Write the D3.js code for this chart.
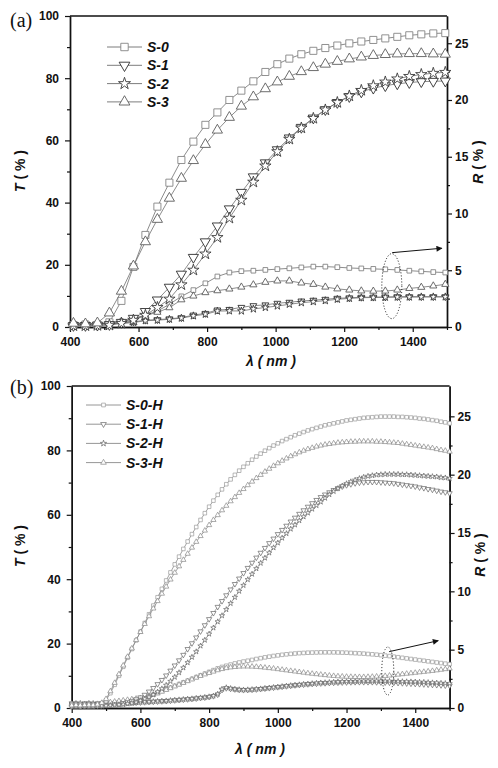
<!DOCTYPE html>
<html>
<head>
<meta charset="utf-8">
<script src="https://cdn.jsdelivr.net/npm/d3@7"></script>
<style>
  body { margin: 0; background: #fff; }
</style>
</head>
<body>
<div id="container"></div>
<script>
/* DATA - panel (a) */
const lambdaA = [410,445,480,515,550,585,620,655,690,725,760,795,830,865,900,935,970,1005,1040,1075,1110,1145,1180,1215,1250,1285,1320,1355,1390,1425,1460,1495];

const tS0a = [0.6,0.8,0.7,1.5, 8.4,19.3,29.6,38.7, 46.4,53.7,59.6,65.0, 69.0,73.0,76.0,79.0, 82.0,84.5,86.3,87.7, 88.8,89.7,90.5,91.2, 91.8,92.3,92.8,93.3, 93.8,94.1,94.4,94.5];
const tS1a = [0.5,0.5,0.6,0.8, 1.5,2.8,5.0,8.7, 12.8,17.0,22.4,27.4, 32.5,38.0,43.3,48.3, 52.8,57.0,60.8,64.2, 67.2,69.9,72.2,74.1, 75.6,76.8,77.6,78.2, 78.6,78.9,79.0,79.1];
const tS2a = [0.4,0.4,0.5,0.6, 1.2,2.2,3.8,6.3, 9.0,13.6,18.3,23.5, 28.8,35.0,40.8,46.6, 51.8,56.4,60.4,64.0, 67.1,69.8,72.2,74.3, 76.1,77.6,78.8,79.8, 80.6,81.2,81.6,81.9];
const tS3a = [1.2,1.0,1.3,4.5, 11.5,19.6,27.4,34.6, 41.4,47.8,53.5,58.7, 63.3,67.4,71.0,74.0, 76.6,78.8,80.6,82.1, 83.4,84.5,85.4,86.2, 86.8,87.3,87.6,87.8, 87.9,87.9,87.8,87.7];

const rS0a = [0.3,0.3,0.3,0.35, 0.5,0.75,1.05,1.4, 2.0,2.7,3.25,3.85, 4.45,4.8,4.92,4.96, 5.03,5.1,5.17,5.25, 5.32,5.32,5.27,5.2, 5.16,5.12,5.08,5.03, 4.96,4.9,4.84,4.8];
const rS1a = [0.3,0.3,0.3,0.3, 0.35,0.45,0.6,0.65, 0.72,0.82,1.05,1.2, 1.5,1.55,1.73,1.88, 1.95,2.09,2.18,2.29, 2.36,2.44,2.53,2.57, 2.62,2.63,2.64,2.67, 2.67,2.67,2.67,2.67];
const rS2a = [0.25,0.25,0.25,0.3, 0.3,0.4,0.55,0.6, 0.68,0.78,0.98,1.12, 1.4,1.42,1.41,1.59, 1.72,1.85,2.0,2.14, 2.23,2.32,2.44,2.52, 2.58,2.6,2.62,2.63, 2.64,2.65,2.65,2.65];
const rS3a = [0.35,0.3,0.3,0.35, 0.5,0.7,1.0,1.3, 1.7,2.4,2.73,3.03, 3.2,3.35,3.52,3.72, 3.94,4.06,4.06,3.88, 3.76,3.52,3.36,3.26, 3.18,3.16,3.17,3.26, 3.4,3.5,3.62,3.76];

/* DATA - panel (b) */
const lambdaB = [
  400,412.5,425,437.5,450,462.5,475,487.5,
  500,512.5,525,537.5,550,562.5,575,587.5,
  600,612.5,625,637.5,650,662.5,675,687.5,
  700,712.5,725,737.5,750,762.5,775,787.5,
  800,812.5,825,837.5,850,862.5,875,887.5,
  900,912.5,925,937.5,950,962.5,975,987.5,
  1000,1012.5,1025,1037.5,1050,1062.5,1075,1087.5,
  1100,1112.5,1125,1137.5,1150,1162.5,1175,1187.5,
  1200,1212.5,1225,1237.5,1250,1262.5,1275,1287.5,
  1300,1312.5,1325,1337.5,1350,1362.5,1375,1387.5,
  1400,1412.5,1425,1437.5,1450,1462.5,1475,1487.5,
  1500];

const tS0b = [
  0.6,0.7,0.6,0.8,0.7,0.8,0.9,1.3,
  2.4,4.6,7.2,10.0,12.8,15.6,18.3,21.0,
  23.7,26.4,29.1,31.8,34.4,37.0,39.6,42.1,
  44.6,47.0,49.4,51.7,54.0,56.2,58.4,60.5,
  62.5,64.4,66.2,67.9,69.5,71.0,72.4,73.7,
  74.9,76.0,77.1,78.1,79.0,79.9,80.7,81.5,
  82.2,82.9,83.5,84.1,84.7,85.2,85.7,86.2,
  86.6,87.0,87.4,87.8,88.1,88.4,88.7,89.0,
  89.3,89.5,89.7,89.9,90.1,90.2,90.3,90.4,
  90.5,90.5,90.5,90.5,90.4,90.4,90.3,90.2,
  90.1,89.9,89.8,89.6,89.4,89.2,88.9,88.7,
  88.4];
const tS1b = [
  0.5,0.6,0.5,0.6,0.6,0.7,0.7,0.8,
  0.9,1.0,1.1,1.3,1.5,1.8,2.2,2.7,
  3.3,4.1,5.1,6.2,7.4,8.7,10.1,11.6,
  13.2,14.8,16.5,18.3,20.1,21.9,23.8,25.7,
  27.6,29.5,31.4,33.2,35.0,36.8,38.5,40.2,
  41.9,43.5,45.1,46.7,48.2,49.7,51.2,52.6,
  54.0,55.3,56.6,57.9,59.1,60.3,61.4,62.5,
  63.6,64.6,65.5,66.3,67.0,67.7,68.3,68.8,
  69.2,69.5,69.8,70.0,70.1,70.2,70.2,70.2,
  70.1,70.0,69.9,69.8,69.6,69.4,69.2,69.0,
  68.8,68.5,68.3,68.0,67.8,67.5,67.2,67.0,
  66.7];
const tS2b = [
  0.4,0.5,0.4,0.5,0.5,0.5,0.6,0.6,
  0.7,0.8,0.9,1.0,1.1,1.3,1.5,1.8,
  2.3,2.8,3.4,4.1,5.0,6.0,7.1,8.3,
  9.6,11.0,12.5,14.1,15.8,17.5,19.3,21.1,
  23.0,24.9,26.8,28.7,30.6,32.5,34.4,36.3,
  38.1,39.9,41.6,43.3,45.0,46.6,48.2,49.8,
  51.3,52.8,54.2,55.6,56.9,58.2,59.4,60.6,
  61.8,62.9,64.0,65.2,66.3,67.3,68.2,69.0,
  69.7,70.3,70.8,71.3,71.7,72.0,72.2,72.4,
  72.5,72.6,72.6,72.6,72.6,72.5,72.5,72.4,
  72.3,72.2,72.1,72.0,71.9,71.8,71.6,71.5,
  71.3];
const tS3b = [
  0.8,0.9,0.8,0.9,1.0,0.9,1.1,1.6,
  2.8,5.2,7.8,10.5,13.2,15.9,18.5,21.1,
  23.6,26.1,28.5,30.9,33.2,35.5,37.7,39.9,
  42.0,44.0,46.0,47.9,49.8,51.6,53.4,55.1,
  56.8,58.4,59.9,61.4,62.8,64.2,65.5,66.8,
  68.0,69.2,70.3,71.4,72.4,73.4,74.3,75.2,
  76.0,76.8,77.5,78.2,78.8,79.4,79.9,80.4,
  80.8,81.2,81.5,81.8,82.0,82.2,82.4,82.5,
  82.6,82.7,82.7,82.8,82.8,82.8,82.8,82.7,
  82.7,82.6,82.5,82.4,82.3,82.1,81.9,81.7,
  81.5,81.3,81.1,80.9,80.7,80.4,80.1,79.9,
  79.6];

const rS0b = [
  0.3,0.3,0.3,0.3,0.3,0.3,0.3,0.35,
  0.4,0.4,0.45,0.5,0.5,0.55,0.6,0.7,
  0.8,0.9,1.0,1.15,1.3,1.45,1.6,1.75,
  1.9,2.05,2.2,2.35,2.5,2.65,2.8,2.95,
  3.1,3.25,3.4,3.52,3.62,3.72,3.82,3.9,
  3.98,4.05,4.12,4.2,4.27,4.34,4.4,4.46,
  4.51,4.56,4.6,4.64,4.67,4.7,4.72,4.74,
  4.75,4.76,4.77,4.77,4.77,4.77,4.76,4.75,
  4.74,4.72,4.7,4.68,4.66,4.63,4.6,4.57,
  4.53,4.49,4.45,4.4,4.35,4.3,4.25,4.2,
  4.15,4.1,4.05,4.0,3.95,3.9,3.85,3.8,
  3.76];
const rS1b = [
  0.4,0.4,0.35,0.4,0.4,0.35,0.4,0.4,
  0.4,0.4,0.42,0.42,0.44,0.45,0.46,0.47,
  0.48,0.5,0.52,0.54,0.56,0.58,0.6,0.63,
  0.66,0.69,0.72,0.75,0.78,0.82,0.86,0.9,
  0.95,1.02,1.15,1.55,1.7,1.65,1.6,1.56,
  1.54,1.55,1.57,1.6,1.63,1.67,1.71,1.75,
  1.79,1.83,1.87,1.91,1.95,1.98,2.01,2.04,
  2.07,2.09,2.11,2.13,2.15,2.17,2.18,2.19,
  2.2,2.21,2.22,2.22,2.22,2.22,2.22,2.21,
  2.2,2.19,2.18,2.17,2.15,2.13,2.11,2.09,
  2.07,2.05,2.03,2.01,1.99,1.97,1.95,1.93,
  1.91];
const rS2b = [
  0.35,0.4,0.4,0.35,0.4,0.4,0.35,0.4,
  0.4,0.41,0.42,0.43,0.44,0.45,0.46,0.48,
  0.5,0.52,0.54,0.56,0.58,0.6,0.62,0.65,
  0.68,0.71,0.74,0.77,0.8,0.84,0.88,0.92,
  0.97,1.04,1.2,1.62,1.75,1.68,1.62,1.58,
  1.56,1.57,1.59,1.62,1.65,1.69,1.73,1.77,
  1.81,1.85,1.89,1.93,1.97,2.0,2.04,2.07,
  2.1,2.13,2.16,2.18,2.2,2.22,2.24,2.26,
  2.27,2.28,2.29,2.3,2.31,2.31,2.31,2.31,
  2.31,2.3,2.3,2.29,2.28,2.27,2.26,2.25,
  2.24,2.22,2.21,2.19,2.17,2.15,2.13,2.11,
  2.09];
const rS3b = [
  0.35,0.3,0.35,0.3,0.35,0.3,0.35,0.4,
  0.45,0.5,0.55,0.6,0.65,0.7,0.75,0.8,
  0.85,0.95,1.05,1.15,1.25,1.4,1.55,1.7,
  1.85,2.0,2.15,2.3,2.45,2.6,2.75,2.88,
  3.0,3.12,3.24,3.34,3.42,3.48,3.52,3.55,
  3.56,3.56,3.55,3.53,3.5,3.46,3.42,3.38,
  3.33,3.28,3.23,3.18,3.13,3.08,3.03,2.98,
  2.94,2.9,2.86,2.82,2.78,2.75,2.72,2.7,
  2.68,2.67,2.66,2.66,2.66,2.67,2.68,2.7,
  2.72,2.75,2.78,2.82,2.86,2.9,2.94,2.98,
  3.02,3.06,3.1,3.14,3.18,3.23,3.28,3.33,
  3.38];

const namesA = ["S-0", "S-1", "S-2", "S-3"];
const namesB = ["S-0-H", "S-1-H", "S-2-H", "S-3-H"];

const xTicks = [400, 600, 800, 1000, 1200, 1400];
const xMinor = [500, 700, 900, 1100, 1300, 1500];
const tTicks = [0, 20, 40, 60, 80, 100];
const tMinor = [10, 30, 50, 70, 90];
const rTicks = [0, 5, 10, 15, 20, 25];
const rMinor = [2.5, 7.5, 12.5, 17.5, 22.5];

/* STYLE per series: square, down triangle, star, up triangle */
const shapes = [
  { type: d3.symbolSquare, rot: 0, color: "#858585" },
  { type: d3.symbolTriangle, rot: 180, color: "#2e2e2e" },
  { type: d3.symbolStar, rot: 0, color: "#3c3c3c" },
  { type: d3.symbolTriangle, rot: 0, color: "#5c5c5c" }
];

const FONT = "Arial, 'Liberation Sans', sans-serif";
const SERIF = "'Liberation Serif', 'Times New Roman', serif";

const svg = d3.select("#container")
  .append("svg")
  .attr("width", 498)
  .attr("height", 768)
  .style("background", "#fff");

function drawPanel(o) {
  const g = svg.append("g");
  const x = d3.scaleLinear().domain([400, 1500]).range([o.left, o.right]);
  const yT = d3.scaleLinear().domain([0, 100]).range([o.bottom, o.top]);
  const yR = d3.scaleLinear().domain([0, o.rMax]).range([o.bottom, o.top]);
  const fmt = d3.format("d");

  // axes
  const styleAxis = sel => {
    sel.attr("font-family", FONT);
    sel.selectAll("path.domain").attr("stroke", "#111").attr("stroke-width", 1.4);
    sel.selectAll(".tick line").attr("stroke", "#111").attr("stroke-width", 1.2);
    sel.selectAll("text").attr("font-size", 12).attr("font-weight", "bold")
      .attr("fill", "#111");
  };

  g.append("g").attr("transform", `translate(0,${o.bottom})`)
    .call(d3.axisBottom(x).tickValues(xMinor).tickSize(3).tickFormat("").tickSizeOuter(0))
    .call(styleAxis);
  g.append("g").attr("transform", `translate(0,${o.bottom})`)
    .call(d3.axisBottom(x).tickValues(xTicks).tickSize(5).tickPadding(5).tickFormat(fmt).tickSizeOuter(0))
    .call(styleAxis);

  g.append("g").attr("transform", `translate(${o.left},0)`)
    .call(d3.axisLeft(yT).tickValues(tMinor).tickSize(3).tickFormat("").tickSizeOuter(0))
    .call(styleAxis);
  g.append("g").attr("transform", `translate(${o.left},0)`)
    .call(d3.axisLeft(yT).tickValues(tTicks).tickSize(5).tickPadding(6).tickFormat(fmt).tickSizeOuter(0))
    .call(styleAxis);

  g.append("g").attr("transform", `translate(${o.right},0)`)
    .call(d3.axisRight(yR).tickValues(rMinor).tickSize(3).tickFormat("").tickSizeOuter(0))
    .call(styleAxis);
  g.append("g").attr("transform", `translate(${o.right},0)`)
    .call(d3.axisRight(yR).tickValues(rTicks).tickSize(5).tickPadding(3).tickFormat(fmt).tickSizeOuter(0))
    .call(styleAxis);

  // top frame line
  g.append("line")
    .attr("x1", o.left).attr("x2", o.right)
    .attr("y1", o.top).attr("y2", o.top)
    .attr("stroke", "#111").attr("stroke-width", 1.4);

  const line = (yScale) => d3.line().x(d => x(d[0])).y(d => yScale(d[1]));

  function series(vals, yScale, i, size) {
    const pts = o.lambda.map((l, k) => [l, vals[k]]);
    const s = shapes[i];
    g.append("path").datum(pts)
      .attr("d", line(yScale))
      .attr("fill", "none")
      .attr("stroke", o.lineColor)
      .attr("stroke-width", 0.8);
    g.append("g").selectAll("path")
      .data(pts)
      .join("path")
      .attr("d", d3.symbol().type(s.type).size(size))
      .attr("transform", d => `translate(${x(d[0])},${yScale(d[1])}) rotate(${s.rot})`)
      .attr("fill", "#fff")
      .attr("stroke", o.markColor ? o.markColor[i] : s.color)
      .attr("stroke-width", o.markStroke);
  }

  o.r.forEach((vals, i) => series(vals, yR, i, o.rSize[i]));
  o.t.forEach((vals, i) => series(vals, yT, i, o.tSize[i]));

  // annotation: dotted ellipse + arrow
  g.append("ellipse")
    .attr("cx", x(o.ell[0])).attr("cy", yR(o.ell[1]))
    .attr("rx", o.ell[2]).attr("ry", o.ell[3])
    .attr("fill", "none").attr("stroke", "#111")
    .attr("stroke-width", 1).attr("stroke-dasharray", "1,2");
  g.append("line")
    .attr("x1", x(o.arrow[0])).attr("y1", yR(o.arrow[1]))
    .attr("x2", x(o.arrow[2])).attr("y2", yR(o.arrow[3]))
    .attr("stroke", "#111").attr("stroke-width", 1)
    .attr("marker-end", "url(#arrowhead)");

  // legend
  o.names.forEach((name, i) => {
    const ly = o.legY + i * o.legStep;
    const s = shapes[i];
    g.append("line")
      .attr("x1", o.legX).attr("x2", o.legX + o.legW)
      .attr("y1", ly).attr("y2", ly)
      .attr("stroke", o.lineColor).attr("stroke-width", 0.9);
    g.append("path")
      .attr("d", d3.symbol().type(s.type).size(o.legSize[i]))
      .attr("transform", `translate(${o.legX + o.legW / 2},${ly}) rotate(${s.rot})`)
      .attr("fill", "#fff")
      .attr("stroke", o.markColor ? o.markColor[i] : s.color)
      .attr("stroke-width", o.markStroke);
    g.append("text")
      .attr("x", o.legX + o.legW + 5).attr("y", ly + 5)
      .attr("font-family", FONT)
      .attr("font-size", 14).attr("font-weight", "bold").attr("font-style", "italic")
      .attr("fill", "#111")
      .text(name);
  });

  // axis titles
  const ttl = (tx, ty, rot) => g.append("text")
    .attr("transform", `translate(${tx},${ty}) rotate(${rot})`)
    .attr("text-anchor", "middle")
    .attr("font-family", FONT)
    .attr("font-size", 14).attr("font-weight", "bold").attr("fill", "#111");

  const tt = ttl(o.tTitle[0], o.tTitle[1], -90);
  tt.append("tspan").attr("font-style", "italic").text("T");
  tt.append("tspan").text(" ( % )");

  const rt = ttl(o.rTitle[0], o.rTitle[1], -90);
  rt.append("tspan").attr("font-style", "italic").text("R");
  rt.append("tspan").text(" ( % )");

  const lt = ttl(o.lTitle[0], o.lTitle[1], 0).attr("font-style", "italic");
  lt.text("\u03bb ( nm )");

  g.append("text")
    .attr("x", 10).attr("y", o.tag[1])
    .attr("font-family", SERIF)
    .attr("font-size", 20).attr("fill", "#111")
    .text(o.tag[0]);
}

svg.append("defs").append("marker")
  .attr("id", "arrowhead")
  .attr("viewBox", "0 0 10 10")
  .attr("refX", 9).attr("refY", 5)
  .attr("markerWidth", 7).attr("markerHeight", 6)
  .attr("markerUnits", "userSpaceOnUse")
  .attr("orient", "auto")
  .append("path").attr("d", "M0,0 L10,5 L0,10 z").attr("fill", "#111");

drawPanel({
  left: 70, right: 447, top: 16, bottom: 327, rMax: 27.4,
  lambda: lambdaA,
  t: [tS0a, tS1a, tS2a, tS3a],
  r: [rS0a, rS1a, rS2a, rS3a],
  tSize: [50, 45, 40, 45], rSize: [22, 20, 18, 22],
  lineColor: "#6e6e6e", markStroke: 0.9,
  names: namesA, legX: 107, legW: 35, legY: 47, legStep: 18.3, legSize: [55, 50, 45, 50],
  ell: [1339, 3.6, 10, 32.5], arrow: [1340, 6.55, 1485, 6.94],
  tTitle: [25, 171], rTitle: [483, 162], lTitle: [271, 366],
  tag: ["(a)", 27]
});

drawPanel({
  left: 71.7, right: 449.6, top: 386, bottom: 708, rMax: 27.6,
  lambda: lambdaB,
  t: [tS0b, tS1b, tS2b, tS3b],
  r: [rS0b, rS1b, rS2b, rS3b],
  tSize: [13, 12, 9, 12], rSize: [13, 12, 9, 12],
  markColor: ["#999", "#666", "#666", "#888"],
  lineColor: "#8a8a8a", markStroke: 0.7,
  names: namesB, legX: 86, legW: 35, legY: 405, legStep: 19.2, legSize: [14, 14, 12, 14],
  ell: [1320, 3.17, 6, 24], arrow: [1324, 4.83, 1467, 5.77],
  tTitle: [25, 546], rTitle: [485, 555], lTitle: [260, 754],
  tag: ["(b)", 394]
});
</script>
</body>
</html>
